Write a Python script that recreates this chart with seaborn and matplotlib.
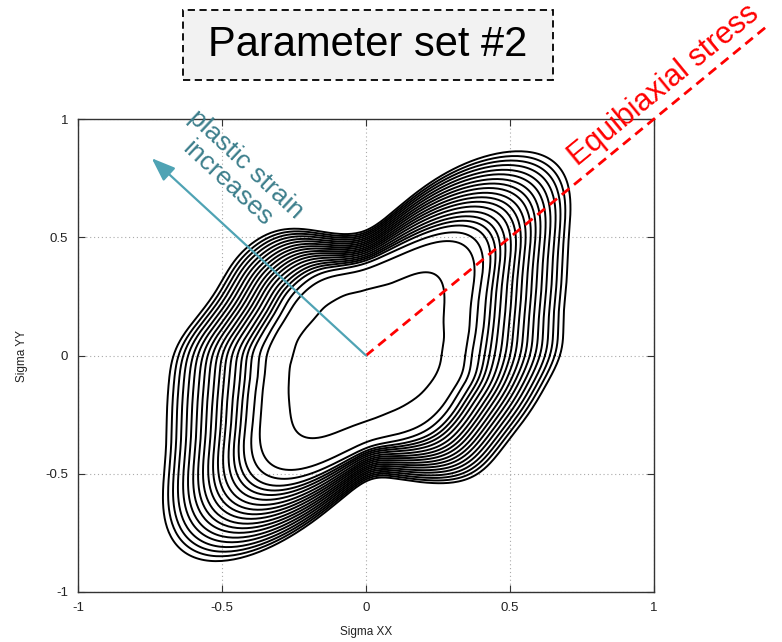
import numpy as np
import pandas as pd
import matplotlib
matplotlib.use("Agg")
import matplotlib.pyplot as plt
from matplotlib.patches import Rectangle
import seaborn as sns

# Yield surfaces.
# Key shapes given as radius in the (Sigma XX, Sigma YY) plane every 10 degrees.
angles_deg = np.arange(0, 360, 10)

r_inner = [0.262, 0.272, 0.288, 0.310, 0.355, 0.410, 0.410, 0.338, 0.298, 0.277,
           0.268, 0.262, 0.254, 0.245, 0.237, 0.238, 0.243, 0.248, 0.254, 0.268,
           0.284, 0.310, 0.345, 0.393, 0.405, 0.355, 0.305, 0.278, 0.262, 0.253,
           0.250, 0.249, 0.250, 0.251, 0.255, 0.259]

r_third = [0.367, 0.382, 0.409, 0.449, 0.526, 0.615, 0.605, 0.513, 0.434, 0.389,
           0.376, 0.380, 0.379, 0.368, 0.355, 0.343, 0.345, 0.355, 0.370, 0.379,
           0.406, 0.447, 0.518, 0.600, 0.605, 0.526, 0.442, 0.390, 0.375, 0.377,
           0.380, 0.376, 0.367, 0.359, 0.361, 0.366]

r_outer = [0.674, 0.695, 0.735, 0.806, 0.925, 1.050, 1.000, 0.825, 0.630, 0.525,
           0.520, 0.565, 0.612, 0.618, 0.605, 0.588, 0.595, 0.630, 0.669, 0.695,
           0.735, 0.800, 0.920, 1.040, 1.010, 0.830, 0.640, 0.527, 0.525, 0.570,
           0.620, 0.633, 0.615, 0.610, 0.620, 0.640]

# where each drawn surface crosses the positive Sigma XX axis
crossings = [0.262, 0.344, 0.367, 0.393, 0.411, 0.428, 0.446, 0.465, 0.483, 0.500,
             0.517, 0.535, 0.552, 0.569, 0.587, 0.604, 0.622, 0.639, 0.656, 0.674]

tick_vals = [-1, -0.5, 0, 0.5, 1]
tick_labels = ["-1", "-0.5", "0", "0.5", "1"]

arrow_tip = (-0.744, 0.834)
equi_end = 1.39


def smooth_closed(radii, n_out=720):
    # periodic (trigonometric) interpolation of the radius samples,
    # with mild sigma factors to damp the ringing near the corners
    r = np.asarray(radii, dtype=float)
    n = len(r)
    c = np.fft.rfft(r)
    k = np.arange(len(c))
    c = c * np.sinc(k / n)
    c[-1] *= 0.5
    rr = np.fft.irfft(c, n_out) * n_out / n
    th = np.linspace(0, 2 * np.pi, n_out, endpoint=False)
    th = np.append(th, th[0])
    rr = np.append(rr, rr[0])
    return th, rr


key_shapes = [np.array(r_inner), np.array(r_third), np.array(r_outer)]
key_levels = [s[0] for s in key_shapes]

rows = []
for i, lev in enumerate(crossings):
    k = 0 if lev <= key_levels[1] else 1
    t = (lev - key_levels[k]) / (key_levels[k + 1] - key_levels[k])
    radii = key_shapes[k] + t * (key_shapes[k + 1] - key_shapes[k])
    th, rr = smooth_closed(radii)
    for j in range(len(th)):
        rows.append({"curve": i, "order": j,
                     "sxx": rr[j] * np.cos(th[j]), "syy": rr[j] * np.sin(th[j])})
df = pd.DataFrame(rows)

sns.set_theme(style="white")
plt.rcParams["font.family"] = ["Liberation Sans", "DejaVu Sans"]

fig = plt.figure(figsize=(7.82, 6.42), dpi=100)
ax = fig.add_axes([78 / 782, 1 - 592 / 642, 576 / 782, 473 / 642])

sns.lineplot(data=df, x="sxx", y="syy", units="curve", estimator=None, sort=False,
             color="black", lw=1.4, ax=ax, legend=False)

ax.set_xlim(-1, 1)
ax.set_ylim(-1, 1)
ax.set_xticks(tick_vals)
ax.set_xticklabels(tick_labels)
ax.set_yticks(tick_vals)
ax.set_yticklabels(tick_labels)
ax.tick_params(direction="in", top=True, right=True, bottom=True, left=True,
               length=5, width=0.8, color="#333333", labelsize=9.5, pad=7,
               labelcolor="#222222")
ax.grid(True, linestyle=(0, (1, 2.5)), color="#aaaaaa", lw=0.8)
for sp in ax.spines.values():
    sp.set_color("#333333")
    sp.set_linewidth(1.0)

ax.set_xlabel("Sigma XX", fontsize=8.5, color="#222222")
ax.set_ylabel("Sigma YY", fontsize=8.5, color="#222222")
ax.xaxis.set_label_coords(0.5, -0.072)
ax.yaxis.set_label_coords(-0.087, 0.5)

# equibiaxial direction
ax.plot([0, equi_end], [0, equi_end], color="red", lw=2.0, dashes=(3.5, 2.2),
        clip_on=False, zorder=5)
ax.text(1.036, 1.143, "Equibiaxial stress", color="red", fontsize=22,
        rotation=39.4, rotation_mode="anchor", ha="center", va="center",
        transform=ax.transData, clip_on=False)

# plastic strain arrow
ax.annotate("", xy=arrow_tip, xytext=(0, 0),
            arrowprops=dict(arrowstyle="-|>,head_length=1.2,head_width=0.45",
                            color="#4fa3b4", lw=1.6, shrinkA=0, shrinkB=0),
            annotation_clip=False, zorder=5)
ax.text(-0.448, 0.767, "plastic strain\nincreases", color="#3d7f8c", fontsize=19,
        rotation=-43, rotation_mode="anchor", ha="center", va="center",
        multialignment="center", linespacing=1.15, clip_on=False)

# title box
fig.patches.append(Rectangle((183 / 782, 1 - 80 / 642), 370 / 782, 70 / 642,
                             transform=fig.transFigure, facecolor="#f2f2f2",
                             edgecolor="black", lw=1.3, linestyle=(0, (4, 2.5))))
fig.text(368 / 782, 1 - 45 / 642, "Parameter set #2", fontsize=30,
         ha="center", va="center", color="black")

fig.savefig("out.png", dpi=100)
